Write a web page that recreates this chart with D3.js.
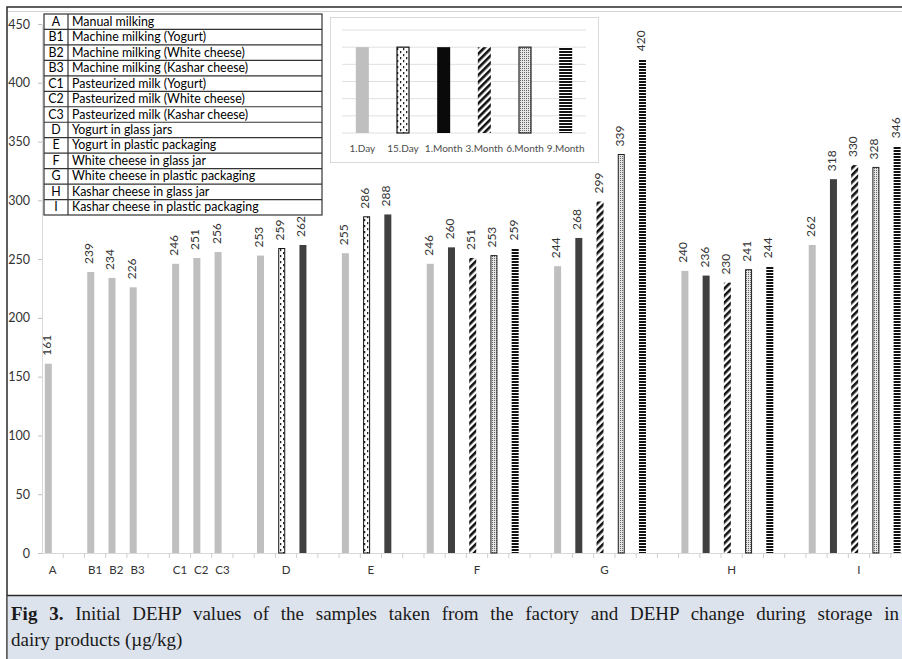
<!DOCTYPE html>
<html>
<head>
<meta charset="utf-8">
<script src="https://cdn.jsdelivr.net/npm/d3@7/dist/d3.min.js"></script>
<style>
  html, body { margin: 0; padding: 0; background: #fff; }
  svg { display: block; }
</style>
</head>
<body>
<svg id="chart" width="902" height="659"></svg>
<script>
// ---------------- DATA ----------------
const initialLabels = ["A", "B1", "B2", "B3", "C1", "C2", "C3"];
const initialGroup  = [0, 1, 1, 1, 2, 2, 2];
const initialValues = [161, 239, 234, 226, 246, 251, 256];

const storageProducts = ["D", "E", "F", "G", "H", "I"];
const periods = ["1.Day", "15.Day", "1.Month", "3.Month", "6.Month", "9.Month"];
const day1   = [253, 255, 246, 244, 240, 262];
const day15  = [259, 286, null, null, null, null];
const month1 = [262, 288, 260, 268, 236, 318];
const month3 = [null, null, 251, 299, 230, 330];
const month6 = [null, null, 253, 339, 241, 328];
const month9 = [null, null, 259, 420, 244, 346];

const yTicks = [0, 50, 100, 150, 200, 250, 300, 350, 400, 450];

const legendCodes = ["A", "B1", "B2", "B3", "C1", "C2", "C3", "D", "E", "F", "G", "H", "I"];
const legendNames = [
  "Manual milking",
  "Machine milking (Yogurt)",
  "Machine milking (White cheese)",
  "Machine milking (Kashar cheese)",
  "Pasteurized milk (Yogurt)",
  "Pasteurized milk (White cheese)",
  "Pasteurized milk (Kashar cheese)",
  "Yogurt in glass jars",
  "Yogurt in plastic packaging",
  "White cheese in glass jar",
  "White cheese in plastic packaging",
  "Kashar cheese in glass jar",
  "Kashar cheese in plastic packaging"
];

const captionBold = "Fig 3.";
const captionLine1 = " Initial DEHP values of the samples taken from the factory and DEHP change during storage in";
const captionLine2 = "dairy products (\u00b5g/kg)";

// ---------------- BUILD SLOTS ----------------
const seriesByPeriod = [day1, day15, month1, month3, month6, month9];
const slots = []; // {label, value, period}
let prevGroup = initialGroup[0];
initialLabels.forEach((lab, i) => {
  if (initialGroup[i] !== prevGroup) { slots.push({label: "", value: null, period: null}); prevGroup = initialGroup[i]; }
  slots.push({label: lab, value: initialValues[i], period: 0});
});
slots.push({label: "", value: null, period: null});
storageProducts.forEach((prod, pi) => {
  const items = [];
  seriesByPeriod.forEach((s, k) => { if (s[pi] !== null) items.push({value: s[pi], period: k}); });
  const mid = Math.floor(items.length / 2);
  items.forEach((it, j) => slots.push({label: j === mid ? prod : "", value: it.value, period: it.period}));
  slots.push({label: "", value: null, period: null});
});

// ---------------- SVG ----------------
const svg = d3.select("#chart");
const font = "Lato, 'Open Sans', sans-serif";

const defs = svg.append("defs");
// 15.Day: dotted white
const p15 = defs.append("pattern").attr("id", "p15").attr("patternUnits", "userSpaceOnUse")
  .attr("width", 6).attr("height", 6);
p15.append("rect").attr("width", 6).attr("height", 6).attr("fill", "#fff");
p15.append("rect").attr("x", 1).attr("y", 0).attr("width", 1.3).attr("height", 2.2).attr("fill", "#222");
p15.append("rect").attr("x", 4).attr("y", 3).attr("width", 1.3).attr("height", 2.2).attr("fill", "#222");
// 3.Month: diagonal stripes
const p3 = defs.append("pattern").attr("id", "p3m").attr("patternUnits", "userSpaceOnUse")
  .attr("width", 5).attr("height", 5).attr("patternTransform", "rotate(45)");
p3.append("rect").attr("width", 5).attr("height", 5).attr("fill", "#fff");
p3.append("rect").attr("width", 2.6).attr("height", 5).attr("fill", "#111");
// 6.Month: fine dots
const p6 = defs.append("pattern").attr("id", "p6m").attr("patternUnits", "userSpaceOnUse")
  .attr("width", 2).attr("height", 2);
p6.append("rect").attr("width", 2).attr("height", 2).attr("fill", "#e6e6e6");
p6.append("rect").attr("width", 1).attr("height", 1).attr("fill", "#666");
// 9.Month: horizontal stripes
const p9 = defs.append("pattern").attr("id", "p9m").attr("patternUnits", "userSpaceOnUse")
  .attr("width", 4).attr("height", 3);
p9.append("rect").attr("width", 4).attr("height", 3).attr("fill", "#fff");
p9.append("rect").attr("width", 4).attr("height", 2).attr("fill", "#111");

const fills   = ["#bfbfbf", "url(#p15)", "#404040", "url(#p3m)", "url(#p6m)", "url(#p9m)"];
const legFill = ["#bfbfbf", "url(#p15)", "#0a0a0a", "url(#p3m)", "url(#p6m)", "url(#p9m)"];
const strokes = [null, "#111", null, null, "#222", null];

// Frame
svg.append("rect").attr("x", 7).attr("y", 7).attr("width", 902).attr("height", 700)
  .attr("fill", "#fff").attr("stroke", "#2b2b2b").attr("stroke-width", 1.5);
svg.append("line").attr("x1", 8).attr("x2", 902).attr("y1", 11.5).attr("y2", 11.5)
  .attr("stroke", "#d4d4d4").attr("stroke-width", 1);

// Scales
const slotW = 21.22;
const x = d3.scaleBand().domain(d3.range(slots.length)).range([42, 42 + slots.length * slotW]).padding(0);
const y = d3.scaleLinear().domain([0, 450]).range([553, 24]);
const barW = 7, barOff = -4.3;

// Y axis
const yAxis = svg.append("g").attr("transform", "translate(42,0)")
  .call(d3.axisLeft(y).tickValues(yTicks).tickSize(4).tickPadding(8).tickSizeOuter(0));
yAxis.select(".domain").attr("stroke", "#d9d9d9");
yAxis.selectAll(".tick line").attr("stroke", "#bfbfbf");
yAxis.selectAll("text").attr("font-family", font).attr("font-size", 12.5).attr("fill", "#333");

// X axis
const xAxis = svg.append("g").attr("transform", "translate(0,553)")
  .call(d3.axisBottom(x).tickSize(0).tickPadding(13).tickSizeOuter(0).tickFormat(i => slots[i].label));
xAxis.select(".domain").attr("stroke", "#d9d9d9");
xAxis.selectAll("text").attr("font-family", font).attr("font-size", 11.5).attr("fill", "#333");
svg.append("g").selectAll("line").data(d3.range(1, slots.length + 1)).join("line")
  .attr("x1", i => 42 + i * x.bandwidth()).attr("x2", i => 42 + i * x.bandwidth())
  .attr("y1", 553).attr("y2", 558).attr("stroke", "#cfcfcf");

// Bars
const barData = slots.map((s, i) => ({...s, i})).filter(d => d.value !== null);
const cx = d => x(d.i) + x.bandwidth() / 2 + barOff;
svg.append("g").selectAll("rect").data(barData).join("rect")
  .attr("x", d => cx(d) - barW / 2 + (strokes[d.period] ? 0.5 : 0))
  .attr("width", d => barW - (strokes[d.period] ? 1 : 0))
  .attr("y", d => y(d.value))
  .attr("height", d => y(0) - y(d.value))
  .attr("fill", d => fills[d.period])
  .attr("stroke", d => strokes[d.period])
  .attr("stroke-width", 1);

// Value labels
svg.append("g").selectAll("text").data(barData).join("text")
  .attr("transform", d => `translate(${cx(d) + 2.5},${y(d.value) - 8}) rotate(-90)`)
  .attr("font-family", font).attr("font-size", 12).attr("fill", "#333")
  .text(d => d.value);

// Legend table
const tbl = svg.append("g");
const rowH = (215 - 14) / legendCodes.length;
tbl.append("rect").attr("x", 44).attr("y", 14).attr("width", 278).attr("height", 201)
  .attr("fill", "#fff").attr("stroke", "#333").attr("stroke-width", 1.2);
tbl.append("line").attr("x1", 68).attr("x2", 68).attr("y1", 14).attr("y2", 215).attr("stroke", "#333").attr("stroke-width", 1.2);
tbl.selectAll("line.r").data(d3.range(1, legendCodes.length)).join("line").attr("class", "r")
  .attr("x1", 44).attr("x2", 322).attr("y1", i => 14 + i * rowH).attr("y2", i => 14 + i * rowH)
  .attr("stroke", "#333").attr("stroke-width", 1.2);
tbl.selectAll("text.c").data(legendCodes).join("text").attr("class", "c")
  .attr("x", 56).attr("y", (d, i) => 14 + i * rowH + 11.8).attr("text-anchor", "middle")
  .attr("font-family", font).attr("font-size", 12.4).attr("fill", "#000").text(d => d);
tbl.selectAll("text.n").data(legendNames).join("text").attr("class", "n")
  .attr("x", 72).attr("y", (d, i) => 14 + i * rowH + 11.8)
  .attr("font-family", font).attr("font-size", 12.4).attr("fill", "#000").text(d => d);

// Inset period legend
const leg = svg.append("g");
leg.append("rect").attr("x", 330.5).attr("y", 17.5).attr("width", 268).attr("height", 145)
  .attr("fill", "#fff").attr("stroke", "#d9d9d9");
const lx = d3.scaleBand().domain(periods).range([342, 586]);
const ly = d3.scaleLinear().domain([0, 6]).range([133, 30]);
leg.selectAll("line").data(d3.range(0, 7)).join("line")
  .attr("x1", 342).attr("x2", 586).attr("y1", d => ly(d)).attr("y2", d => ly(d))
  .attr("stroke", "#e0e0e0");
const legW = 13;
leg.selectAll("rect.sw").data(periods).join("rect").attr("class", "sw")
  .attr("x", (d, k) => lx(d) + lx.bandwidth() / 2 - legW / 2 + (strokes[k] ? 0.5 : 0))
  .attr("width", (d, k) => legW - (strokes[k] ? 1 : 0))
  .attr("y", ly(5)).attr("height", ly(0) - ly(5))
  .attr("fill", (d, k) => legFill[k]).attr("stroke", (d, k) => strokes[k]).attr("stroke-width", 1.2);
leg.selectAll("text").data(periods).join("text")
  .attr("x", d => lx(d) + lx.bandwidth() / 2).attr("y", 152).attr("text-anchor", "middle")
  .attr("font-family", font).attr("font-size", 10).attr("fill", "#4d4d4d").text(d => d);

// Caption
svg.append("rect").attr("x", 7.75).attr("y", 596).attr("width", 900).attr("height", 70).attr("fill", "#dde3ec");
svg.append("line").attr("x1", 7).attr("x2", 902).attr("y1", 595.5).attr("y2", 595.5).attr("stroke", "#2b2b2b").attr("stroke-width", 1.5);
const serif = "'Liberation Serif', 'DejaVu Serif', serif";
const cSize = 19;
const c1 = svg.append("text").attr("x", 11).attr("y", 620).attr("font-family", serif)
  .attr("font-size", cSize).attr("fill", "#1a1a1a");
c1.append("tspan").attr("font-weight", "bold").text(captionBold);
c1.append("tspan").text(captionLine1);
const target = 899 - 11;
const len = c1.node().getComputedTextLength();
const spaces = (captionBold + captionLine1).split(" ").length - 1;
c1.attr("word-spacing", (target - len) / spaces);
svg.append("text").attr("x", 11).attr("y", 646).attr("font-family", serif)
  .attr("font-size", cSize).attr("fill", "#1a1a1a").text(captionLine2);
</script>
</body>
</html>
